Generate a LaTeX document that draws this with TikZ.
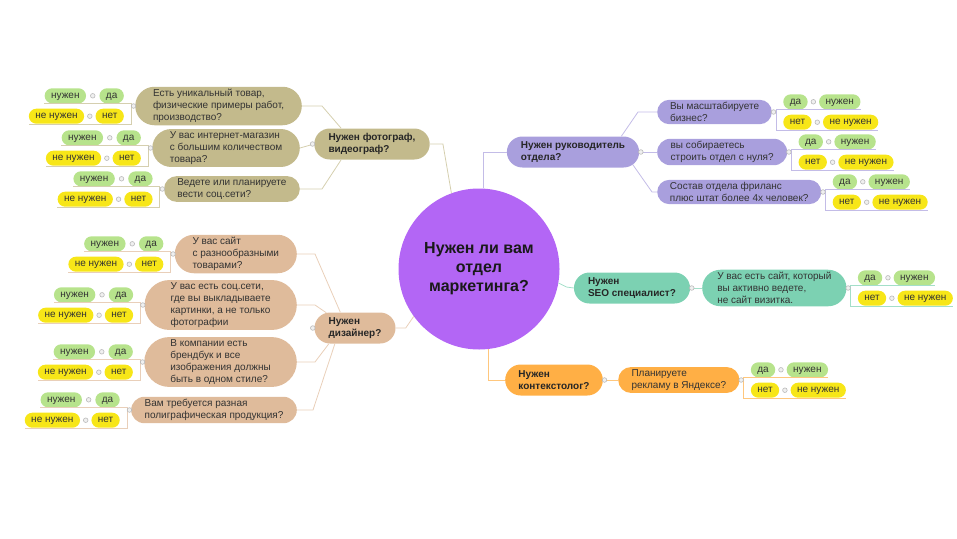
\documentclass[tikz,border=0pt]{standalone}
\usepackage{fontspec}
\setmainfont{Liberation Sans}
\usetikzlibrary{calc,positioning,shapes.misc}
\definecolor{morado}{RGB}{179,102,245}
\definecolor{oliva}{RGB}{195,186,140}
\definecolor{melocoton}{RGB}{223,187,155}
\definecolor{lavanda}{RGB}{169,159,221}
\definecolor{turquesa}{RGB}{124,209,178}
\definecolor{naranja}{RGB}{255,175,69}
\definecolor{pastelverde}{RGB}{183,227,140}
\definecolor{amarillo}{RGB}{247,230,24}
\tikzset{
  centro/.style={
    circle,
    fill=morado,
    minimum size=161pt,
    inner sep=0pt,
    align=center,
    text=black!90,
    font=\bfseries\fontsize{16}{19}\selectfont
  },
  rama/.style={
    rounded rectangle,
    fill=#1,
    align=left,
    inner xsep=10pt,
    minimum height=31pt,
    text=black!85,
    font=\bfseries\fontsize{10}{12}\selectfont
  },
  pregunta/.style={
    rounded rectangle,
    fill=#1,
    align=left,
    inner xsep=8pt,
    inner ysep=2.5pt,
    text=black!80,
    font=\fontsize{10}{12}\selectfont
  },
  verde/.style={
    rounded corners=7.5pt,
    fill=pastelverde,
    minimum height=15pt,
    inner xsep=6.5pt,
    inner ysep=0pt,
    text height=7.3pt,
    text depth=2pt,
    text=black!80,
    font=\fontsize{10}{12}\selectfont
  },
  amarilla/.style={
    verde,
    fill=amarillo
  },
  linea/.style={
    draw=#1,
    line width=0.8pt
  },
  marca/.style={
    draw=gray!55,
    fill=gray!12,
    line width=0.6pt
  }
}
\newcommand{\marca}[1]{\draw[marca] (#1) circle (2.3pt);}
% respuestas a la izquierda de la pregunta
\newcommand{\izquierda}[2]{%
  \node[verde,above left=2.5pt and 11pt of #1.west] (#1da) {да};
  \node[verde,left=13pt of #1da] (#1nz) {нужен};
  \node[amarilla,below left=2.5pt and 11pt of #1.west] (#1nt) {нет};
  \node[amarilla,left=11pt of #1nt] (#1nn) {не нужен};
  \draw[linea=#2] (#1.west) -- ++(-4pt,0) |- (#1nz.south west);
  \draw[linea=#2] (#1.west) -- ++(-4pt,0) |- (#1nn.south west);
  \marca{[xshift=-1.5pt]#1.west}
  \marca{$(#1nz.east)!.5!(#1da.west)$}
  \marca{$(#1nn.east)!.5!(#1nt.west)$}
}
% respuestas a la derecha de la pregunta
\newcommand{\derecha}[2]{%
  \node[verde,above right=2.5pt and 11pt of #1.east] (#1da) {да};
  \node[verde,right=11pt of #1da] (#1nz) {нужен};
  \node[amarilla,below right=2.5pt and 11pt of #1.east] (#1nt) {нет};
  \node[amarilla,right=11pt of #1nt] (#1nn) {не нужен};
  \draw[linea=#2] (#1.east) -- ++(4pt,0) |- (#1nz.south east);
  \draw[linea=#2] (#1.east) -- ++(4pt,0) |- (#1nn.south east);
  \marca{[xshift=1.5pt]#1.east}
  \marca{$(#1da.east)!.5!(#1nz.west)$}
  \marca{$(#1nt.east)!.5!(#1nn.west)$}
}
\begin{document}
\begin{tikzpicture}[x=1pt,y=-1pt]
\useasboundingbox (0,0) rectangle (957,538);
\node[centro] (c) at (479,269) {Нужен ли вам\\отдел\\маркетинга?};

% фотограф
\node[rama=oliva] (foto) at (372,144) {Нужен фотограф,\\видеограф?};
\node[pregunta=oliva,anchor=east] (f1) at (302,106) {Есть уникальный товар,\\физические примеры работ,\\производство?};
\node[pregunta=oliva,anchor=east] (f2) at (300,148) {У вас интернет-магазин\\с большим количеством\\товара?};
\node[pregunta=oliva,anchor=east] (f3) at (300,189) {Ведете или планируете\\вести соц.сети?};
\draw[linea=oliva!70] (foto.east) -- ++(13pt,0) -- (c.110);
\draw[linea=oliva!70] (f1.east) -- ++(20pt,0) -- (foto.153);
\draw[linea=oliva!70] (f2.east) -- (foto.west);
\draw[linea=oliva!70] (f3.east) -- ++(22pt,0) -- (foto.207);
\marca{[xshift=-1.5pt]foto.west}
\izquierda{f1}{oliva!70}
\izquierda{f2}{oliva!70}
\izquierda{f3}{oliva!70}

% дизайнер
\node[rama=melocoton] (dis) at (355,328) {Нужен\\дизайнер?};
\node[pregunta=melocoton,anchor=east] (d1) at (297,254) {У вас сайт\\с разнообразными\\товарами?};
\node[pregunta=melocoton,anchor=east,inner xsep=12pt] (d2) at (297,305) {У вас есть соц.сети,\\где вы выкладываете\\картинки, а не только\\фотографии};
\node[pregunta=melocoton,anchor=east,inner xsep=12pt] (d3) at (297,362) {В компании есть\\брендбук и все\\изображения должны\\быть в одном стиле?};
\node[pregunta=melocoton,anchor=east] (d4) at (297,410) {Вам требуется разная\\полиграфическая продукция?};
\draw[linea=melocoton!70] (dis.east) -- ++(10pt,0) -- (c.216);
\draw[linea=melocoton!70] (d1.east) -- ++(18pt,0) -- (dis.133);
\draw[linea=melocoton!70] (d2.east) -- ++(18pt,0) -- (dis.152);
\draw[linea=melocoton!70] (d3.east) -- ++(18pt,0) -- (dis.211);
\draw[linea=melocoton!70] (d4.east) -- ++(16pt,0) -- (dis.218);
\marca{[xshift=-1.5pt]dis.west}
\izquierda{d1}{melocoton!70}
\izquierda{d2}{melocoton!70}
\izquierda{d3}{melocoton!70}
\izquierda{d4}{melocoton!70}

% руководитель
\node[rama=lavanda] (jefe) at (573,152) {Нужен руководитель\\отдела?};
\node[pregunta=lavanda,anchor=west] (j1) at (657,112) {Вы масштабируете\\бизнес?};
\node[pregunta=lavanda,anchor=west] (j2) at (657,152) {вы собираетесь\\строить отдел с нуля?};
\node[pregunta=lavanda,anchor=west] (j3) at (657,192) {Состав отдела фриланс\\плюс штат более 4х человек?};
\draw[linea=lavanda!70] (c.87) |- (jefe.west);
\draw[linea=lavanda!70] (j1.west) -- ++(-19pt,0) -- (jefe.18);
\draw[linea=lavanda!70] (j2.west) -- (jefe.east);
\draw[linea=lavanda!70] (j3.west) -- ++(-5pt,0) -- (jefe.-12);
\marca{[xshift=1.5pt]jefe.east}
\derecha{j1}{lavanda!70}
\derecha{j2}{lavanda!70}
\derecha{j3}{lavanda!70}

% SEO
\node[rama=turquesa] (seo) at (632,288) {Нужен\\SEO специалист?};
\node[pregunta=turquesa,anchor=west,inner xsep=6pt] (s1) at (702,288) {У вас есть сайт, который\\вы активно ведете,\\не сайт визитка.};
\draw[linea=turquesa!70] (c.-10) -- ++(8pt,-4pt) -- (seo.west);
\draw[linea=turquesa!70] (seo.east) -- (s1.west);
\marca{[xshift=1.5pt]seo.east}
\derecha{s1}{turquesa!70}

% контекстолог
\node[rama=naranja] (ctx) at (554,380) {Нужен\\контекстолог?};
\node[pregunta=naranja,anchor=west] (k1) at (618,380) {Планируете\\рекламу в Яндексе?};
\draw[linea=naranja!70] (c.-83) |- (ctx.west);
\draw[linea=naranja!70] (ctx.east) -- (k1.west);
\marca{[xshift=1.5pt]ctx.east}
\derecha{k1}{naranja!70}
\end{tikzpicture}
\end{document}
